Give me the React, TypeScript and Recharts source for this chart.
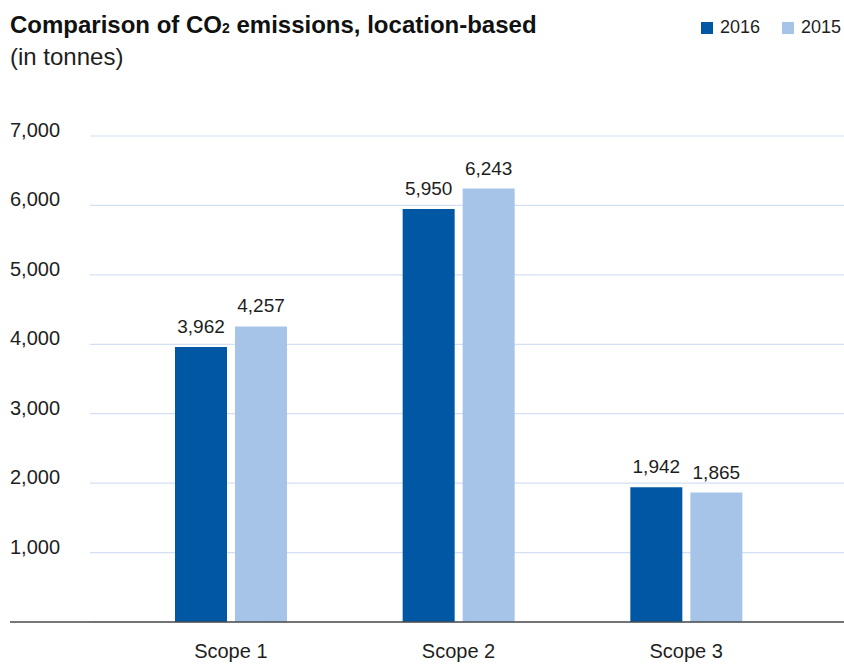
import React from "react";
import { Bar, BarChart, CartesianGrid, LabelList, XAxis, YAxis } from "recharts";

const scopes = ["Scope 1", "Scope 2", "Scope 3"];
const values2016 = [3962, 5950, 1942];
const values2015 = [4257, 6243, 1865];
const yTicks = [0, 1000, 2000, 3000, 4000, 5000, 6000, 7000];
const seriesNames = ["2016", "2015"];

const data = scopes.map((scope, i) => ({
  scope,
  y2016: values2016[i],
  y2015: values2015[i]
}));

const FONT = '"Liberation Sans", Arial, Helvetica, sans-serif';
const DARK = "#0057a3";
const LIGHT = "#a5c4e8";
const TEXT = "#1e1e1e";
const seriesColors = [DARK, LIGHT];

const fmt = (v: number) => v.toLocaleString("en-US");

function YTick(props: any) {
  const { y, payload } = props;
  if (payload.value === 0) {
    return <line x1={10} x2={844} y1={y} y2={y} stroke="#4a4a4a" strokeWidth={1.5} />;
  }
  return (
    <text x={10} y={y} dy={1} textAnchor="start" fill={TEXT} fontSize={20} fontFamily={FONT}>
      {fmt(payload.value)}
    </text>
  );
}

export default function App() {
  return (
    <div style={{ position: "absolute", left: 0, top: 0, width: 844, height: 665, background: "#fff", fontFamily: FONT }}>
      <div style={{ position: "absolute", left: 10, top: 11, fontSize: 24, fontWeight: 700, color: "#111", whiteSpace: "nowrap" }}>
        Comparison of CO<span style={{ fontSize: 14 }}>2</span> emissions, location-based
      </div>
      <div style={{ position: "absolute", left: 10, top: 43, fontSize: 24, color: TEXT }}>(in tonnes)</div>
      {seriesNames.map((name, i) => (
        <React.Fragment key={name}>
          <span
            style={{ position: "absolute", left: 701 + i * 81, top: 22, width: 12, height: 12, background: seriesColors[i] }}
          />
          <span
            style={{ position: "absolute", left: 720 + i * 81, top: 18, fontSize: 18, lineHeight: "18px", color: TEXT }}
          >
            {name}
          </span>
        </React.Fragment>
      ))}
      <BarChart
        width={844}
        height={665}
        data={data}
        margin={{ top: 136, right: 0, bottom: 0, left: 10 }}
        barSize={52}
        barGap={8}
        style={{ position: "absolute", left: 0, top: 0 }}
      >
        <CartesianGrid vertical={false} stroke="#d3e0f3" strokeWidth={1.2} />
        <XAxis
          dataKey="scope"
          height={43}
          axisLine={false}
          tickLine={false}
          padding={{ left: 27, right: 44 }}
          tick={{ fill: TEXT, fontSize: 20, fontFamily: FONT }}
          tickMargin={16}
        />
        <YAxis
          width={80}
          domain={[0, 7000]}
          ticks={yTicks}
          axisLine={false}
          tickLine={false}
          tick={<YTick />}
        />
        <Bar dataKey="y2016" name={seriesNames[0]} fill={DARK} isAnimationActive={false}>
          <LabelList dataKey="y2016" position="top" offset={14} fill={TEXT} fontSize={19} fontFamily={FONT} formatter={(v: any) => fmt(Number(v))} />
        </Bar>
        <Bar dataKey="y2015" name={seriesNames[1]} fill={LIGHT} isAnimationActive={false}>
          <LabelList dataKey="y2015" position="top" offset={14} fill={TEXT} fontSize={19} fontFamily={FONT} formatter={(v: any) => fmt(Number(v))} />
        </Bar>
      </BarChart>
    </div>
  );
}
